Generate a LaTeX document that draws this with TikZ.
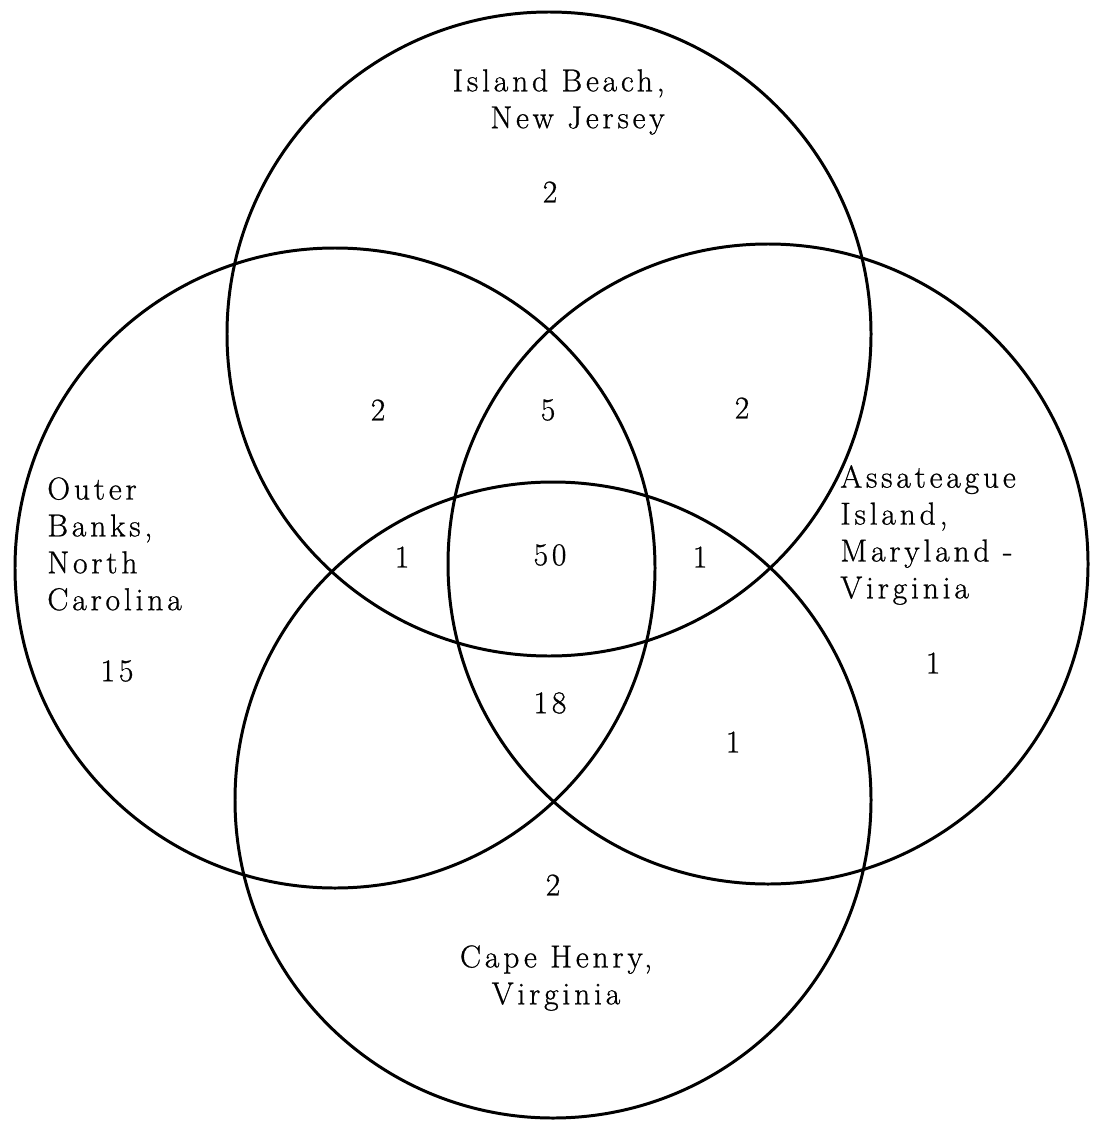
\documentclass[tikz,border=0pt]{standalone}
\usepackage{fontspec}
\setmainfont{Latin Modern Roman}[LetterSpace=12,FakeBold=0.8]
\usepackage{tikz}
\usetikzlibrary{positioning}

\begin{document}
\begin{tikzpicture}[
  site/.style={draw=black,circle,line width=1.7pt,inner sep=0pt},
  place/.style={font=\fontsize{18}{21}\selectfont,inner sep=0pt},
  count/.style={font=\fontsize{18}{21}\selectfont,inner sep=0pt},
]
\useasboundingbox (0,0) rectangle (21.92,-22.46);
\node[site,minimum size=12.88cm] (nj) at (10.98,-6.68) {};
\node[site,minimum size=12.80cm] (nc) at (6.70,-11.36) {};
\node[site,minimum size=12.80cm] (md) at (15.36,-11.28) {};
\node[site,minimum size=12.72cm] (va) at (11.06,-16.00) {};
\node[place,align=right,anchor=east] (njname) at (13.30,-2.04) {Island Beach,\\New Jersey};
\node[place,align=left,anchor=west] (ncname) at (0.94,-10.88) {Outer\\Banks,\\North\\Carolina};
\node[place,align=left,anchor=west] (mdname) at (16.80,-10.70) {Assateague\\Island,\\Maryland -\\Virginia};
\node[place,align=center] (vaname) at (11.12,-19.56) {Cape Henry,\\Virginia};
\node[count] (njonly) at (11.00,-3.84) {2};
\node[count] (ncnj) at (7.56,-8.20) {2};
\node[count] (ncnjmd) at (10.96,-8.20) {5};
\node[count] (njmd) at (14.84,-8.16) {2};
\node[count] (nconly) at (2.34,-13.42) {15};
\node[count] (mdonly) at (18.66,-13.26) {1};
\node[count] (ncnjva) at (8.04,-11.14) {1};
\node[count] (every) at (11.00,-11.10) {50};
\node[count] (njmdva) at (14.00,-11.14) {1};
\node[count] (ncmdva) at (11.00,-14.06) {18};
\node[count] (mdva) at (14.66,-14.84) {1};
\node[count] (vaonly) at (11.06,-17.70) {2};
\end{tikzpicture}
\end{document}
